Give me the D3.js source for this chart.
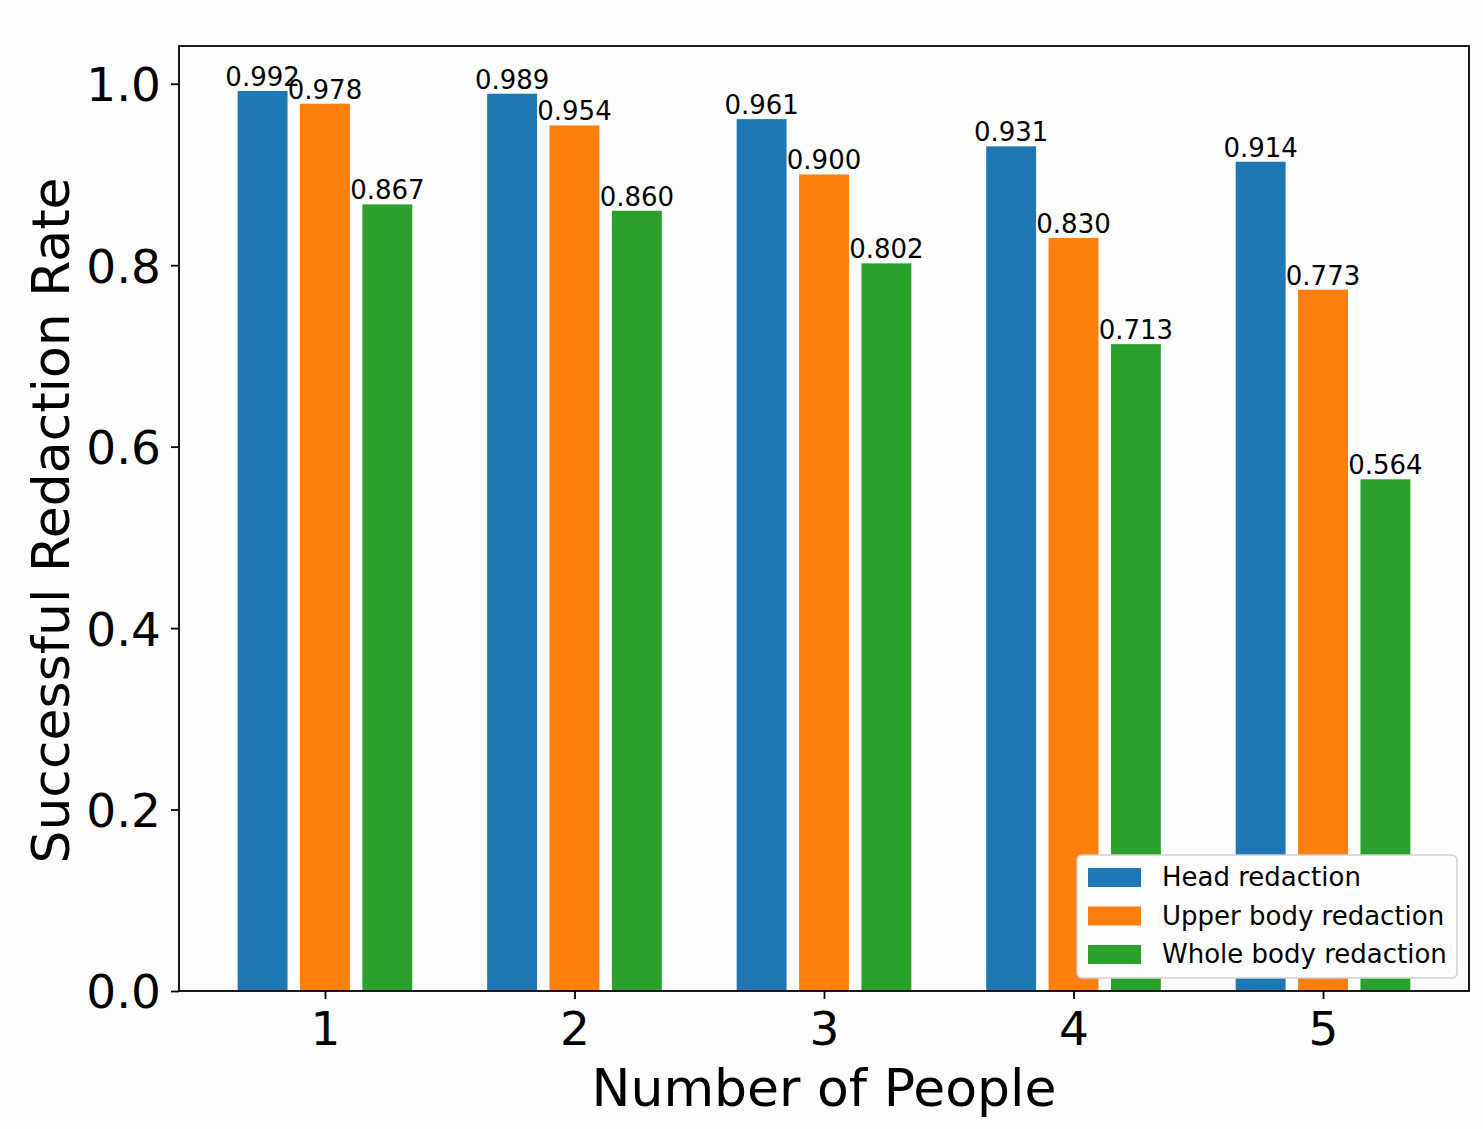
<!DOCTYPE html>
<html>
<head>
  <meta charset="UTF-8">
  <title>Successful Redaction Rate</title>
  <style>
    body { margin: 0; background: #fdfdfd; }
    text { font-family: "DejaVu Sans", sans-serif; fill: #000; }
  </style>
</head>
<body>
<svg id="chart"></svg>
<script src="https://d3js.org/d3.v7.min.js"></script>
<script>

// data
var people = [1, 2, 3, 4, 5]
var series = ["Head redaction", "Upper body redaction", "Whole body redaction"]
var headRate = [0.992, 0.989, 0.961, 0.931, 0.914]
var upperRate = [0.978, 0.954, 0.900, 0.830, 0.773]
var wholeRate = [0.867, 0.860, 0.802, 0.713, 0.564]
var colors = ["#1f77b4", "#ff7f0e", "#2ca02c"]
var yTicks = [0.0, 0.2, 0.4, 0.6, 0.8, 1.0]

let width = 1483, height = 1129
let plotLeft = 179, plotRight = 1469, plotTop = 46, plotBottom = 991

let svg = d3.select("#chart")
    .attr("width", width)
    .attr("height", height)

svg.append("rect").attr("width", width).attr("height", height).attr("fill", "#fdfdfd")

// matplotlib-like limits: bars at offsets -0.25, 0, 0.25 with width 0.2
var x = d3.scaleLinear().domain([0.415, 5.585]).range([plotLeft, plotRight])
var y = d3.scaleLinear().domain([0, 1.0416]).range([plotBottom, plotTop])

var offsets = [-0.25, 0, 0.25]
var barW = 0.2
var allRates = [headRate, upperRate, wholeRate]

var rows = []
allRates.forEach(function (vals, s) {
    vals.forEach(function (v, i) {
        rows.push({ s: s, p: people[i], v: v })
    })
})

// bars
svg.append("g").selectAll("rect")
    .data(rows)
    .enter()
    .append("rect")
    .attr("x", d => x(d.p + offsets[d.s] - barW / 2))
    .attr("width", d => x(d.p + offsets[d.s] + barW / 2) - x(d.p + offsets[d.s] - barW / 2))
    .attr("y", d => y(d.v))
    .attr("height", d => y(0) - y(d.v))
    .attr("fill", d => colors[d.s])

// value labels
svg.append("g").selectAll("text")
    .data(rows)
    .enter()
    .append("text")
    .attr("x", d => x(d.p + offsets[d.s]))
    .attr("y", d => y(d.v) - 5)
    .attr("text-anchor", "middle")
    .style("font-size", "26px")
    .text(d => d.v.toFixed(3))

// axes
var xAxis = d3.axisBottom(x).tickValues(people).tickFormat(d3.format("d")).tickSize(8).tickPadding(9)
var yAxis = d3.axisLeft(y).tickValues(yTicks).tickFormat(d3.format(".1f")).tickSize(8).tickPadding(10)

var gx = svg.append("g").attr("transform", "translate(0," + plotBottom + ")").call(xAxis)
var gy = svg.append("g").attr("transform", "translate(" + plotLeft + ",0)").call(yAxis)
;[gx, gy].forEach(function (g) {
    g.select(".domain").remove()
    g.selectAll(".tick line").attr("stroke", "#000").attr("stroke-width", 1.8)
    g.selectAll(".tick text").style("font-size", "47px").style("font-family", "DejaVu Sans")
})
gx.selectAll(".tick text").attr("dy", "0.78em")
gy.selectAll(".tick text").attr("dy", "0.36em")

// frame
svg.append("rect")
    .attr("x", plotLeft).attr("y", plotTop)
    .attr("width", plotRight - plotLeft).attr("height", plotBottom - plotTop)
    .attr("fill", "none").attr("stroke", "#000").attr("stroke-width", 1.8)

// axis titles
svg.append("text")
    .attr("x", (plotLeft + plotRight) / 2)
    .attr("y", 1106)
    .attr("text-anchor", "middle")
    .style("font-size", "52px")
    .text("Number of People")

svg.append("text")
    .attr("transform", "translate(69," + ((plotTop + plotBottom) / 2 + 2) + ") rotate(-90)")
    .attr("text-anchor", "middle")
    .style("font-size", "52px")
    .text("Successful Redaction Rate")

// legend
var lg = svg.append("g").attr("transform", "translate(1077,855)")
lg.append("rect")
    .attr("width", 380).attr("height", 123)
    .attr("rx", 5)
    .attr("fill", "#fdfdfd")
    .attr("stroke", "#d0d0d0").attr("stroke-width", 1.5)

var items = lg.selectAll("g.item")
    .data(series)
    .enter()
    .append("g")
    .attr("class", "item")
    .attr("transform", (d, i) => "translate(0," + (22 + i * 38.5) + ")")
items.append("rect")
    .attr("x", 11).attr("y", -9)
    .attr("width", 53).attr("height", 19)
    .attr("fill", (d, i) => colors[i])
items.append("text")
    .attr("x", 85).attr("y", 0)
    .attr("dy", "0.36em")
    .style("font-size", "26px")
    .text(d => d)

</script>
</body>
</html>
